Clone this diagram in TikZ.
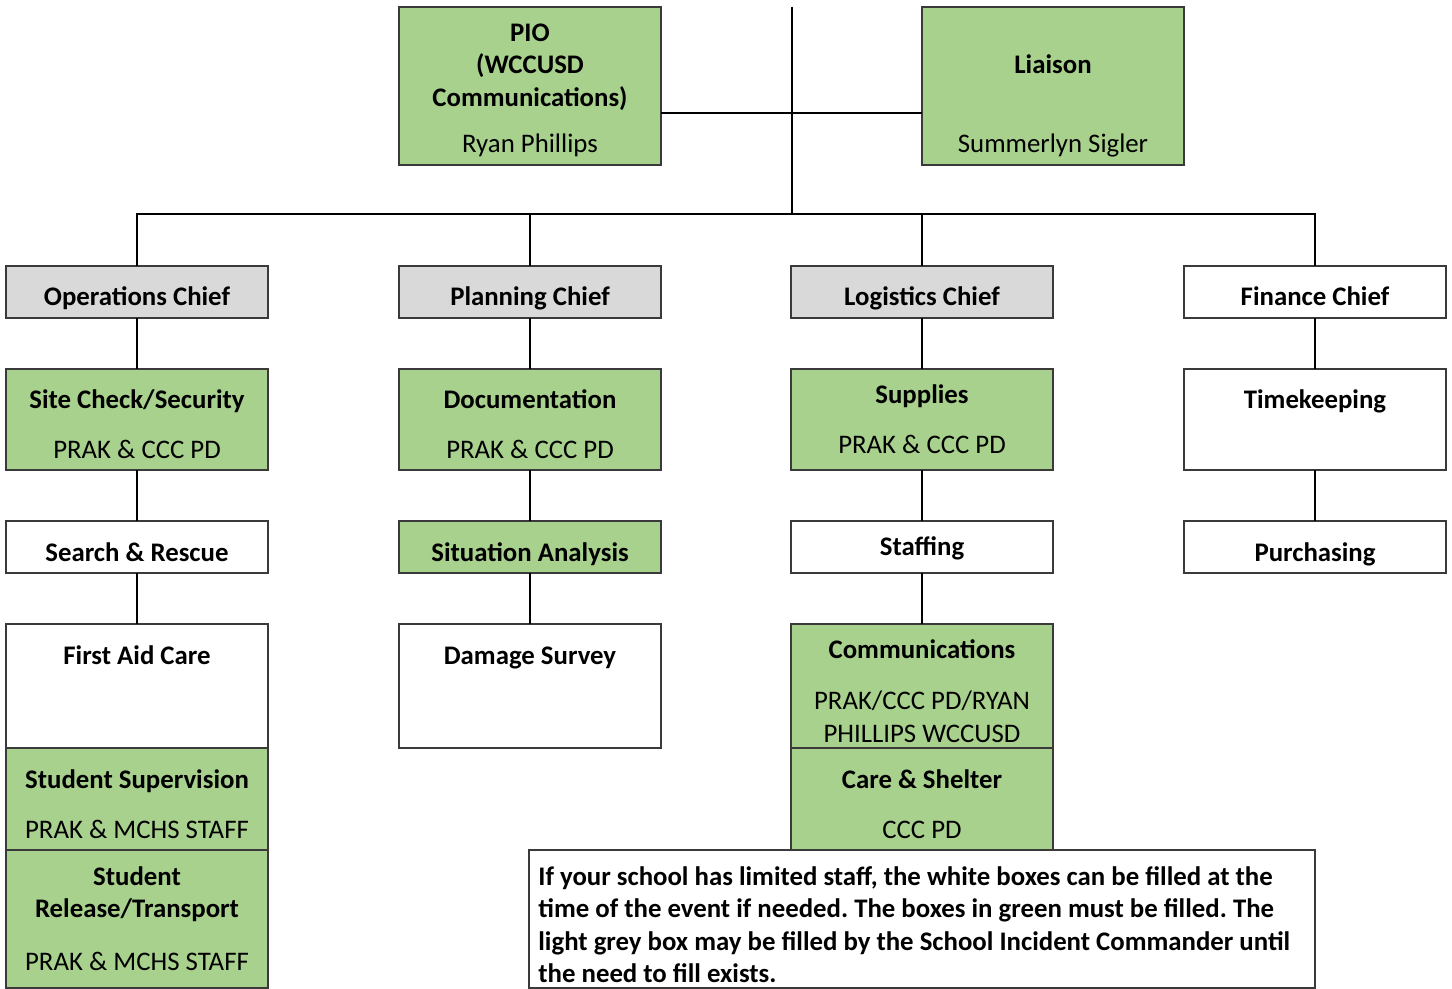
\documentclass[tikz,border=0pt]{standalone}
\usepackage{fontspec}
\setmainfont{Carlito}
\frenchspacing
\definecolor{grn}{HTML}{A9D18E}
\definecolor{gry}{HTML}{D9D9D9}
\definecolor{bord}{HTML}{3A3A3A}
\newcommand\BX[6]{\node[box,fill=#2,minimum width={(#5-#3)*0.5pt},minimum height={(#6-#4)*0.5pt}] (#1) at (#3,#4) {};}
\newcommand\TX[5]{\node[txt,#2] (#1) at (#3,#4+9) {#5};}
\begin{document}
\begin{tikzpicture}[x=0.5pt,y=-0.5pt,
  box/.style={draw=bord,line width=0.75pt,inner sep=0,outer sep=0,anchor=north west},
  txt/.style={anchor=base,inner sep=0,font=\fontsize{13.4}{16}\selectfont},
  b/.style={font=\fontsize{13.4}{16}\selectfont\bfseries},
  n/.style={},
  conn/.style={draw=black,line width=0.7pt}]
\useasboundingbox[fill=white] (0,0) rectangle (1452,989);
% top
\BX{pio}{grn}{399}{7}{661}{165}
\BX{liaison}{grn}{922}{7}{1184}{165}
% chiefs
\BX{ops}{gry}{6}{266}{268}{318}
\BX{plan}{gry}{399}{266}{661}{318}
\BX{logi}{gry}{791}{266}{1053}{318}
\BX{fin}{white}{1184}{266}{1446}{318}
% row 2
\BX{site}{grn}{6}{369}{268}{470}
\BX{doc}{grn}{399}{369}{661}{470}
\BX{sup}{grn}{791}{369}{1053}{470}
\BX{time}{white}{1184}{369}{1446}{470}
% row 3
\BX{search}{white}{6}{521}{268}{573}
\BX{sit}{grn}{399}{521}{661}{573}
\BX{staff}{white}{791}{521}{1053}{573}
\BX{purch}{white}{1184}{521}{1446}{573}
% row 4
\BX{aid}{white}{6}{624}{268}{748}
\BX{dmg}{white}{399}{624}{661}{748}
\BX{comm}{grn}{791}{624}{1053}{748}
% row 5
\BX{superv}{grn}{6}{748}{268}{850}
\BX{care}{grn}{791}{748}{1053}{870}
% row 6
\BX{rel}{grn}{6}{850}{268}{988}
% note
\BX{note}{white}{529}{850}{1315}{988}
% texts
\TX{tpio}{b}{530}{33}{PIO}
\TX{tpio2}{b}{530}{65}{(WCCUSD}
\TX{tpio3}{b}{530}{98}{Communications)}
\TX{tpio4}{n}{530}{144}{Ryan Phillips}
\TX{tli}{b}{1053}{65}{Liaison}
\TX{tli2}{n}{1053}{144}{Summerlyn Sigler}
\TX{tops}{b}{137}{297}{Operations Chief}
\TX{tplan}{b}{530}{297}{Planning Chief}
\TX{tlog}{b}{922}{297}{Logistics Chief}
\TX{tfin}{b}{1315}{297}{Finance Chief}
\TX{tsite}{b}{137}{400}{Site Check/Security}
\TX{tsite2}{n}{137}{450}{PRAK \& CCC PD}
\TX{tdoc}{b}{530}{400}{Documentation}
\TX{tdoc2}{n}{530}{450}{PRAK \& CCC PD}
\TX{tsup}{b}{922}{395}{Supplies}
\TX{tsup2}{n}{922}{445}{PRAK \& CCC PD}
\TX{ttime}{b}{1315}{400}{Timekeeping}
\TX{tsearch}{b}{137}{552}{Search \& Rescue}
\TX{tsit}{b}{530}{552}{Situation Analysis}
\TX{tstaff}{b}{922}{547}{Staffing}
\TX{tpurch}{b}{1315}{552}{Purchasing}
\TX{taid}{b}{137}{655}{First Aid Care}
\TX{tdmg}{b}{530}{655}{Damage Survey}
\TX{tcomm}{b}{922}{650}{Communications}
\TX{tcomm2}{n}{922}{700}{PRAK/CCC PD/RYAN}
\TX{tcomm3}{n}{922}{733}{PHILLIPS WCCUSD}
\TX{tsuperv}{b}{137}{779}{Student Supervision}
\TX{tsuperv2}{n}{137}{829}{PRAK \& MCHS STAFF}
\TX{tcare}{b}{922}{779}{Care \& Shelter}
\TX{tcare2}{n}{922}{829}{CCC PD}
\TX{trel}{b}{137}{876}{Student}
\TX{trel2}{b}{137}{908}{Release/Transport}
\TX{trel3}{n}{137}{961}{PRAK \& MCHS STAFF}
\node[anchor=north west,inner sep=0,align=left,font=\fontsize{13.4}{16.2}\selectfont\bfseries] (tnote) at (538,866)
 {If your school has limited staff, the white boxes can be filled at the\\
  time of the event if needed. The boxes in green must be filled. The\\
  light grey box may be filled by the School Incident Commander until\\
  the need to fill exists.};
% connectors
\coordinate (top) at (792,7);
\coordinate (bus) at (792,214);
\coordinate (mid) at (792,113);
\draw[conn] (top) -- (bus);
\draw[conn] (pio.east |- mid) -- (liaison.west |- mid);
\draw[conn] (ops.north) |- (bus) -| (fin.north);
\draw[conn] (plan.north) -- (plan.north |- bus);
\draw[conn] (logi.north) -- (logi.north |- bus);
\draw[conn] (ops.south) -- (site.north);
\draw[conn] (site.south) -- (search.north);
\draw[conn] (search.south) -- (aid.north);
\draw[conn] (plan.south) -- (doc.north);
\draw[conn] (doc.south) -- (sit.north);
\draw[conn] (sit.south) -- (dmg.north);
\draw[conn] (logi.south) -- (sup.north);
\draw[conn] (sup.south) -- (staff.north);
\draw[conn] (staff.south) -- (comm.north);
\draw[conn] (fin.south) -- (time.north);
\draw[conn] (time.south) -- (purch.north);
\end{tikzpicture}
\end{document}
